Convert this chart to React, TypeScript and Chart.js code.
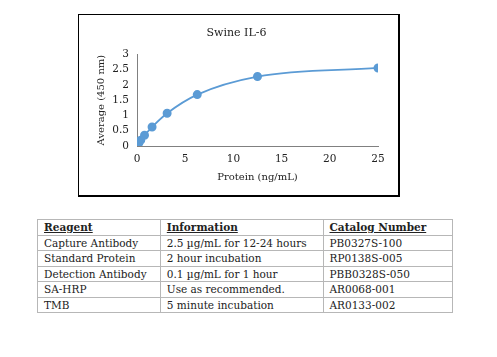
import React, { useEffect, useRef } from "react";
import { Chart, registerables } from "chart.js";
Chart.register(...registerables);

const chartTitle = "Swine IL-6";
const xAxisTitle = "Protein (ng/mL)";
const yAxisTitle = "Average (450 nm)";
const concentrations = [0, 0.195, 0.39, 0.78, 1.5625, 3.125, 6.25, 12.5, 25];
const absorbance = [0.02, 0.1, 0.19, 0.35, 0.62, 1.07, 1.68, 2.27, 2.55];

const tableHeaders = ["Reagent", "Information", "Catalog Number"];
const reagents = ["Capture Antibody", "Standard Protein", "Detection Antibody", "SA-HRP", "TMB"];
const infos = ["2.5 µg/mL for 12-24 hours", "2 hour incubation", "0.1 µg/mL for 1 hour", "Use as recommended.", "5 minute incubation"];
const catalogs = ["PB0327S-100", "RP0138S-005", "PBB0328S-050", "AR0068-001", "AR0133-002"];

const FONT = "'DejaVu Serif', serif";

function ChartBox() {
  const ref = useRef<HTMLCanvasElement>(null);
  useEffect(() => {
    if (!ref.current) return;
    const chart = new Chart(ref.current, {
      type: "scatter",
      data: {
        datasets: [
          {
            data: concentrations.map((x, i) => ({ x, y: absorbance[i] })),
            showLine: true,
            borderColor: "#5B9BD5",
            backgroundColor: "#5B9BD5",
            pointBackgroundColor: "#5B9BD5",
            pointBorderColor: "#5B9BD5",
            borderWidth: 1.8,
            pointRadius: 3.6,
            tension: 0.4,
            cubicInterpolationMode: "monotone",
          },
        ],
      },
      options: {
        animation: false,
        responsive: false,
        layout: { padding: { left: 16, right: 20, top: 0, bottom: 12 } },
        plugins: {
          legend: { display: false },
          tooltip: { enabled: false },
          title: {
            display: true,
            text: chartTitle,
            color: "#222",
            font: { family: FONT, size: 11, weight: "normal" },
            padding: { top: 12, bottom: 14 },
          },
        },
        scales: {
          x: {
            type: "linear",
            min: 0,
            max: 25,
            afterFit: (s: any) => {
              s.height = 37;
            },
            ticks: { stepSize: 5, autoSkip: false, color: "#222", font: { family: FONT, size: 10.5 }, padding: 7, maxRotation: 0 },
            grid: { display: false, drawTicks: false },
            border: { display: true, color: "#808080", width: 1 },
            title: { display: true, text: xAxisTitle, color: "#222", font: { family: FONT, size: 10 }, padding: { top: 0, bottom: 0 } },
          },
          y: {
            min: 0,
            max: 3,
            afterFit: (s: any) => {
              s.width = 42;
            },
            ticks: {
              stepSize: 0.5,
              autoSkip: false,
              color: "#222",
              font: { family: FONT, size: 10.5 },
              padding: 8,
              callback: (v: any) => String(Number(v)),
            },
            grid: { display: false, drawTicks: false },
            border: { display: true, color: "#808080", width: 1 },
            title: { display: true, text: yAxisTitle, color: "#222", font: { family: FONT, size: 10 }, padding: { top: 0, bottom: 0 } },
          },
        },
      },
    });
    return () => chart.destroy();
  }, []);
  return (
    <div
      style={{
        position: "absolute",
        left: 70,
        top: 6,
        width: 319,
        height: 180,
        border: "1px solid #000",
        borderRightWidth: 2,
        borderBottomWidth: 2,
        background: "#fff",
      }}
    >
      <canvas ref={ref} width={319} height={180} style={{ display: "block" }} />
    </div>
  );
}

export default function App() {
  const cell: React.CSSProperties = {
    border: "1px solid #b7b7b7",
    padding: "0 6px",
    height: 14.5,
    lineHeight: "14.5px",
    whiteSpace: "nowrap",
    textAlign: "left",
    color: "#222",
  };
  return (
    <div style={{ position: "relative", width: 481, height: 341, fontFamily: FONT }}>
      <ChartBox />
      <table
        style={{
          position: "absolute",
          left: 29,
          top: 211,
          width: 416,
          borderCollapse: "collapse",
          fontSize: 10.5,
          fontFamily: FONT,
        }}
      >
        <colgroup>
          <col style={{ width: 123 }} />
          <col style={{ width: 163 }} />
          <col style={{ width: 130 }} />
        </colgroup>
        <thead>
          <tr>
            {tableHeaders.map((h) => (
              <th key={h} style={{ ...cell, fontWeight: "bold", textDecoration: "underline" }}>
                {h}
              </th>
            ))}
          </tr>
        </thead>
        <tbody>
          {reagents.map((r, i) => (
            <tr key={r}>
              <td style={cell}>{r}</td>
              <td style={cell}>{infos[i]}</td>
              <td style={cell}>{catalogs[i]}</td>
            </tr>
          ))}
        </tbody>
      </table>
    </div>
  );
}
